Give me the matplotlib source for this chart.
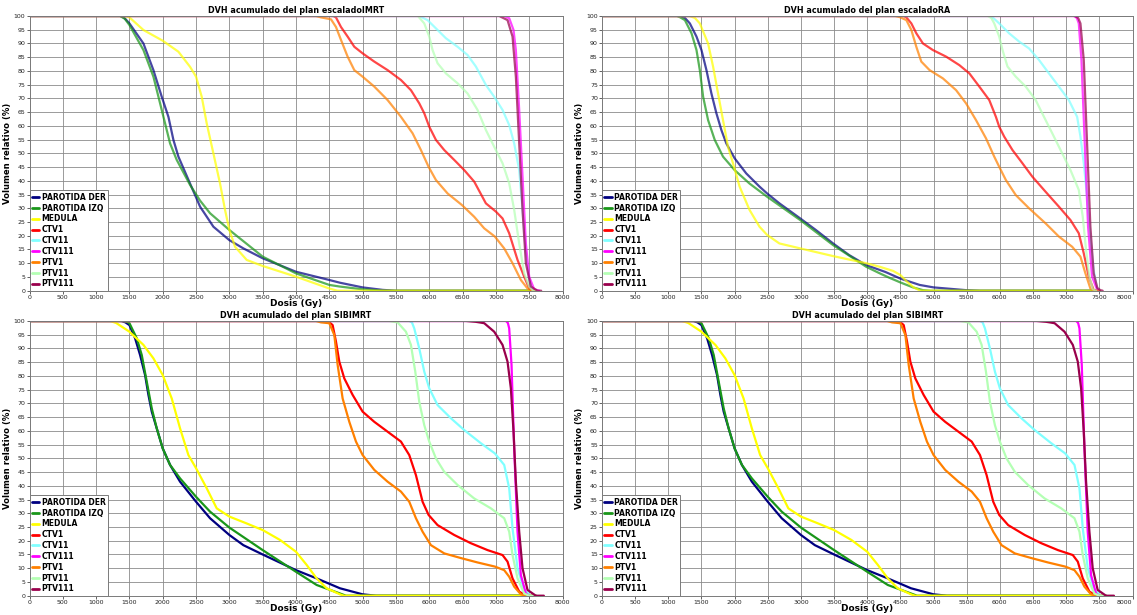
import matplotlib
matplotlib.use("Agg")
import matplotlib.pyplot as plt

# Structures shown in every DVH panel, in drawing order
structures = ["PAROTIDA DER", "PAROTIDA IZQ", "MEDULA", "CTV1", "CTV11",
              "CTV111", "PTV1", "PTV11", "PTV111"]
colors = ["#000080", "#199619", "#ffff00", "#ff0000", "#80ffff",
          "#ff00ff", "#ff8000", "#b4ffb4", "#99004c"]

x_ticks = list(range(0, 8001, 500))
y_ticks = list(range(0, 101, 5))

# ---- escaladoIMRT plan: (dose Gy, relative volume %) ----
imrt_parotida_der = [(0, 100), (1360, 100), (1420, 99.4), (1500, 97.3), (1710, 90), (1860, 80.3),
                     (1985, 70.6), (2085, 63.3), (2160, 54.9), (2235, 48.8), (2410, 39),
                     (2560, 30.6), (2760, 23.3), (3000, 18.4), (3210, 15.4), (3500, 11.8),
                     (4000, 6.9), (4500, 3.9), (4660, 2.9), (5000, 1.2), (5300, 0.3),
                     (5500, 0), (7600, 0)]
imrt_parotida_izq = [(0, 100), (1360, 100), (1430, 99), (1500, 96.7), (1710, 87.6), (1860, 77.9),
                     (1960, 68.2), (2035, 60.9), (2110, 53.6), (2210, 47.6), (2410, 38.5),
                     (2560, 32.8), (2710, 28.2), (3000, 22.1), (3500, 12.4), (4000, 6.3),
                     (4500, 2.1), (4660, 1.5), (5000, 0.5), (5300, 0), (7600, 0)]
imrt_medula = [(0, 100), (1430, 100), (1500, 99.5), (1710, 94.9), (2000, 91), (2235, 87),
               (2410, 81.5), (2500, 77.9), (2585, 70.6), (2660, 60.9), (2760, 50),
               (2860, 39), (2935, 29.4), (3000, 22.1), (3085, 16), (3260, 11.2),
               (3500, 9), (4000, 5.1), (4500, 0.8), (4620, 0), (7600, 0)]
imrt_ctv1 = [(0, 100), (4560, 100), (4600, 99.5), (4675, 96), (4775, 92.5), (4875, 88.8),
             (5000, 86.4), (5175, 83.4), (5375, 80.3), (5575, 76.7), (5725, 73),
             (5850, 68.2), (5925, 64.6), (6000, 59.7), (6100, 54.9), (6225, 51.2),
             (6375, 47.6), (6525, 43.9), (6675, 39.7), (6850, 31.8), (7000, 28.8),
             (7100, 26.3), (7200, 20.9), (7325, 11.2), (7425, 5.1), (7500, 0.8),
             (7560, 0), (7600, 0)]
imrt_ctv11 = [(0, 100), (5850, 100), (5975, 98.5), (6100, 95.5), (6250, 91.9), (6425, 88.8),
              (6575, 85.8), (6700, 81.6), (6850, 74.9), (6975, 70.6), (7100, 65.8),
              (7200, 60.3), (7275, 53.6), (7350, 43.9), (7400, 29.4), (7450, 13.6),
              (7500, 3.9), (7550, 0.2), (7600, 0)]
imrt_ctv111 = [(0, 100), (7125, 100), (7200, 99.2), (7265, 94.9), (7300, 87.6), (7350, 65.8),
               (7400, 41.5), (7450, 17.2), (7500, 5.1), (7575, 0.5), (7650, 0)]
imrt_ptv1 = [(0, 100), (4300, 100), (4375, 99.5), (4525, 98.8), (4600, 96), (4675, 91.3),
             (4775, 85.2), (4875, 80.3), (5000, 77.9), (5175, 74.3), (5375, 69.4),
             (5575, 63.3), (5750, 57.3), (5875, 51.2), (5990, 45.1), (6100, 40.3),
             (6275, 35.4), (6490, 31.2), (6675, 26.9), (6825, 22.7), (6985, 19.7),
             (7125, 15.4), (7250, 10), (7375, 3.9), (7475, 0.8), (7550, 0), (7600, 0)]
imrt_ptv11 = [(0, 100), (5830, 100), (5925, 97.3), (6000, 92.5), (6050, 87.6), (6125, 82.8),
              (6250, 79.1), (6425, 75.5), (6575, 71.8), (6725, 65.8), (6850, 58.5),
              (6975, 52.4), (7100, 46.4), (7200, 39.1), (7275, 29.4), (7350, 17.2),
              (7425, 6.3), (7500, 1.5), (7560, 0), (7600, 0)]
imrt_ptv111 = [(0, 100), (7050, 100), (7175, 98.5), (7250, 92.5), (7300, 77.9), (7350, 53.6),
               (7400, 29.4), (7450, 10), (7525, 1.5), (7625, 0), (7680, 0)]

# ---- escaladoRA plan ----
ra_parotida_der = [(0, 100), (1180, 100), (1250, 99.3), (1325, 97.3), (1425, 92.5), (1500, 87.6),
                   (1575, 80.3), (1650, 71.8), (1725, 64.6), (1800, 58.5), (1875, 53.6),
                   (2000, 48.2), (2175, 42.7), (2375, 37.9), (2490, 35.4), (2675, 31.8),
                   (2990, 26.3), (3225, 22.1), (3485, 17.2), (3725, 13), (3985, 9.3),
                   (4275, 6.8), (4500, 4.4), (4790, 2.1), (5000, 1.2), (5490, 0.2),
                   (5700, 0), (7500, 0)]
ra_parotida_izq = [(0, 100), (1130, 100), (1180, 99.5), (1250, 98.5), (1350, 93.7), (1425, 87.6),
                   (1475, 80.3), (1525, 70.6), (1600, 62.1), (1700, 54.9), (1825, 48.8),
                   (2000, 43.9), (2225, 39), (2490, 34.2), (2990, 25.7), (3485, 16.6),
                   (3985, 8.7), (4190, 6.3), (4325, 4.8), (4500, 3.0), (4690, 1.2),
                   (4840, 0.2), (4950, 0), (7500, 0)]
ra_medula = [(0, 100), (1320, 100), (1400, 99.3), (1475, 97.3), (1600, 90), (1675, 81.6),
             (1750, 71.8), (1825, 62.1), (1900, 52.4), (1975, 46.4), (2075, 37.9),
             (2225, 29.4), (2375, 23.3), (2490, 20.3), (2675, 17.2), (2990, 15.4),
             (3485, 12.6), (3985, 10), (4190, 8.7), (4390, 7.2), (4500, 5.7),
             (4590, 3.5), (4700, 1.2), (4800, 0), (7500, 0)]
ra_ctv1 = [(0, 100), (4550, 100), (4590, 99.5), (4665, 97.3), (4740, 93.7), (4840, 90),
           (4990, 87.6), (5190, 85.2), (5390, 82.1), (5540, 79.1), (5690, 74.3),
           (5840, 69.4), (5940, 63.3), (5990, 59.7), (6065, 56.1), (6190, 51.2),
           (6340, 46.4), (6490, 41.5), (6690, 36), (6890, 30.6), (7065, 25.7),
           (7190, 20.9), (7265, 13.6), (7340, 5.1), (7415, 0.2), (7500, 0)]
ra_ctv11 = [(0, 100), (5840, 100), (5900, 99.3), (5990, 97.3), (6140, 93.7), (6290, 90.7),
            (6440, 88.2), (6590, 84), (6740, 79.1), (6890, 74.3), (7040, 69.4),
            (7165, 63.3), (7215, 56.1), (7265, 46.4), (7315, 34.2), (7365, 19.7),
            (7415, 7.5), (7465, 0.8), (7500, 0)]
ra_ctv111 = [(0, 100), (7115, 100), (7160, 99.3), (7190, 97.3), (7230, 84), (7280, 53.6),
             (7330, 23.3), (7390, 5.1), (7465, 0.5), (7500, 0)]
ra_ptv1 = [(0, 100), (4420, 100), (4490, 99.6), (4590, 98.5), (4665, 94.9), (4740, 88.8),
           (4815, 83.4), (4940, 80.3), (5140, 77.3), (5340, 73), (5490, 68.2),
           (5640, 62.1), (5790, 55.5), (5915, 48.8), (5990, 45.1), (6090, 40.3),
           (6240, 34.8), (6440, 30), (6690, 24.5), (6890, 19.7), (7090, 16),
           (7215, 12.4), (7290, 6.3), (7365, 0.8), (7420, 0), (7500, 0)]
ra_ptv11 = [(0, 100), (5815, 100), (5870, 99.3), (5915, 97.3), (5990, 92.5), (6040, 87.6),
            (6115, 81.6), (6240, 77.9), (6390, 74.3), (6540, 69.4), (6665, 63.3),
            (6790, 57.3), (6940, 50), (7065, 43.9), (7190, 36.7), (7250, 26.9),
            (7300, 14.8), (7350, 5.1), (7400, 0.5), (7450, 0)]
ra_ptv111 = [(0, 100), (7130, 100), (7180, 99.3), (7215, 97.3), (7265, 84), (7315, 53.6),
             (7365, 23.3), (7415, 6.3), (7470, 1.0), (7515, 0.2), (7550, 0)]

# ---- SIBIMRT plan ----
sib_parotida_der = [(0, 100), (1380, 100), (1440, 99.5), (1500, 98.5), (1585, 93.7), (1660, 87.6),
                    (1735, 80.3), (1785, 73.1), (1835, 67), (1910, 60.9), (2000, 53.6),
                    (2110, 47.6), (2260, 41.5), (2500, 34.2), (2710, 28.2), (3000, 22.1),
                    (3210, 18.4), (3500, 15), (4000, 9.3), (4310, 6.3), (4660, 2.7),
                    (5000, 0.5), (5200, 0), (7600, 0)]
sib_parotida_izq = [(0, 100), (1400, 100), (1460, 99.7), (1500, 99.2), (1610, 93.7), (1685, 87.6),
                    (1760, 77.9), (1835, 68.2), (1910, 60.9), (2000, 53.6), (2110, 47.6),
                    (2260, 42.7), (2500, 36), (2710, 30.6), (3000, 24.8), (3500, 16.6),
                    (4000, 8.7), (4310, 3.9), (4660, 0.8), (4750, 0), (7600, 0)]
sib_medula = [(0, 100), (1210, 100), (1300, 99.3), (1500, 96.1), (1710, 91.3), (1860, 86.4),
              (2000, 80.3), (2135, 71.8), (2260, 60.9), (2385, 51.2), (2500, 46.4),
              (2660, 39.1), (2810, 31.8), (3000, 28.8), (3260, 26.3), (3500, 23.9),
              (3760, 20.3), (4000, 16), (4160, 11.2), (4310, 6.3), (4460, 2.7),
              (4660, 0.5), (4720, 0), (7600, 0)]
sib_ctv1 = [(0, 100), (4480, 100), (4550, 98.5), (4600, 92.5), (4650, 85.2), (4725, 79.1),
            (4850, 73.1), (5000, 67), (5175, 63.3), (5375, 59.7), (5575, 56.1),
            (5700, 51.2), (5800, 43.9), (5900, 34.2), (5990, 29.4), (6125, 25.7),
            (6375, 22.1), (6625, 19.1), (6875, 16.6), (7100, 14.8), (7175, 12.4),
            (7250, 6.3), (7350, 1.5), (7450, 0), (7550, 0)]
sib_ctv11 = [(0, 100), (5700, 100), (5740, 99.5), (5775, 97.3), (5850, 90), (5925, 81.6),
             (6000, 75.5), (6125, 69.4), (6325, 64.6), (6525, 60.3), (6775, 55.5),
             (6985, 51.8), (7125, 47.6), (7200, 39.1), (7250, 24.5), (7325, 10),
             (7425, 2.1), (7525, 0), (7600, 0)]
sib_ctv111 = [(0, 100), (7150, 100), (7180, 99.3), (7200, 97.3), (7235, 84), (7275, 53.6),
              (7325, 23.3), (7375, 7.5), (7450, 0.8), (7500, 0)]
sib_ptv1 = [(0, 100), (4300, 100), (4375, 99.5), (4500, 99.2), (4575, 94.9), (4625, 84),
            (4700, 71.8), (4800, 63.3), (4900, 56.1), (5000, 51.2), (5175, 45.8),
            (5375, 41.5), (5575, 37.9), (5700, 34.2), (5800, 28.2), (5900, 23.3),
            (6025, 18.4), (6225, 15.4), (6490, 13.6), (6725, 12.1), (6985, 10.6),
            (7125, 9.3), (7200, 6.9), (7275, 3.3), (7375, 0.5), (7450, 0), (7550, 0)]
sib_ptv11 = [(0, 100), (5400, 100), (5525, 99.5), (5650, 96.1), (5725, 91.3), (5790, 81.6),
             (5850, 70.6), (5925, 62.1), (6000, 56.1), (6100, 50), (6225, 45.1),
             (6425, 40.3), (6675, 35.4), (6925, 31.8), (7125, 28.2), (7200, 23.3),
             (7250, 14.8), (7325, 6.3), (7425, 0.8), (7500, 0), (7600, 0)]
sib_ptv111 = [(0, 100), (6550, 100), (6700, 99.7), (6825, 99.2), (6975, 96.1), (7100, 91.3),
              (7175, 85.2), (7225, 75.5), (7265, 59.7), (7300, 41.5), (7350, 23.3),
              (7400, 10), (7475, 2.1), (7600, 0), (7720, 0)]

imrt_curves = [imrt_parotida_der, imrt_parotida_izq, imrt_medula, imrt_ctv1, imrt_ctv11,
               imrt_ctv111, imrt_ptv1, imrt_ptv11, imrt_ptv111]
ra_curves = [ra_parotida_der, ra_parotida_izq, ra_medula, ra_ctv1, ra_ctv11,
             ra_ctv111, ra_ptv1, ra_ptv11, ra_ptv111]
sib_curves = [sib_parotida_der, sib_parotida_izq, sib_medula, sib_ctv1, sib_ctv11,
              sib_ctv111, sib_ptv1, sib_ptv11, sib_ptv111]

plt.rcParams["font.family"] = ["DejaVu Sans"]

fig = plt.figure(figsize=(11.37, 6.15), dpi=100)

W = 1137.0
H = 615.0


def axes_box(x0, x1, y_top, y_bot):
    return [x0 / W, 1 - y_bot / H, (x1 - x0) / W, (y_bot - y_top) / H]


# (title, curves, line alpha, axes box, is right column)
panels = [
    ("DVH acumulado del plan escaladoIMRT", imrt_curves, 0.72, axes_box(29.5, 562.5, 16, 290.7), False),
    ("DVH acumulado del plan escaladoRA", ra_curves, 0.72, axes_box(602, 1132.5, 16, 290.7), True),
    ("DVH acumulado del plan SIBIMRT", sib_curves, 1.0, axes_box(29.5, 562.5, 321, 595.7), False),
    ("DVH acumulado del plan SIBIMRT", sib_curves, 1.0, axes_box(602, 1132.5, 321, 595.7), True),
]

for title, curves, alpha, box, right_col in panels:
    ax = fig.add_axes(box)
    for name, color, pts in zip(structures, colors, curves):
        dose = [p[0] for p in pts]
        vol = [p[1] for p in pts]
        ax.plot(dose, vol, color=color, lw=1.6, alpha=alpha, label=name,
                solid_joinstyle="round", solid_capstyle="round")
    ax.set_xlim(0, 8000)
    ax.set_ylim(0, 100)
    ax.set_xticks(x_ticks)
    ax.set_yticks(y_ticks)
    ax.set_axisbelow(True)
    ax.grid(True, color="#8a8a8a", lw=0.6)
    ax.tick_params(labelsize=4.5, length=2, width=0.5, pad=1, colors="#222222")
    if right_col:
        # keep the last dose label inside the figure
        ax.get_xticklabels()[-1].set_horizontalalignment("right")
    for sp in ax.spines.values():
        sp.set_color("#7a7a7a")
        sp.set_linewidth(0.7)
    ax.set_title(title, fontsize=5.8, fontweight="bold", pad=2)
    ax.set_xlabel("Dosis (Gy)", fontsize=6.5, fontweight="bold", labelpad=-0.5)
    ax.set_ylabel("Volumen relativo (%)", fontsize=6.1, fontweight="bold", labelpad=1.5)
    leg = ax.legend(loc="lower left", borderaxespad=0, fancybox=False, framealpha=1,
                    edgecolor="#7a7a7a", handlelength=1.0, handletextpad=0.3,
                    labelspacing=0.24, borderpad=0.3,
                    prop={"weight": "bold", "size": 5.5})
    leg.get_frame().set_linewidth(0.7)
    for h in leg.legend_handles:
        h.set_alpha(1)
        h.set_linewidth(2)

fig.savefig("out.png", dpi=100)
